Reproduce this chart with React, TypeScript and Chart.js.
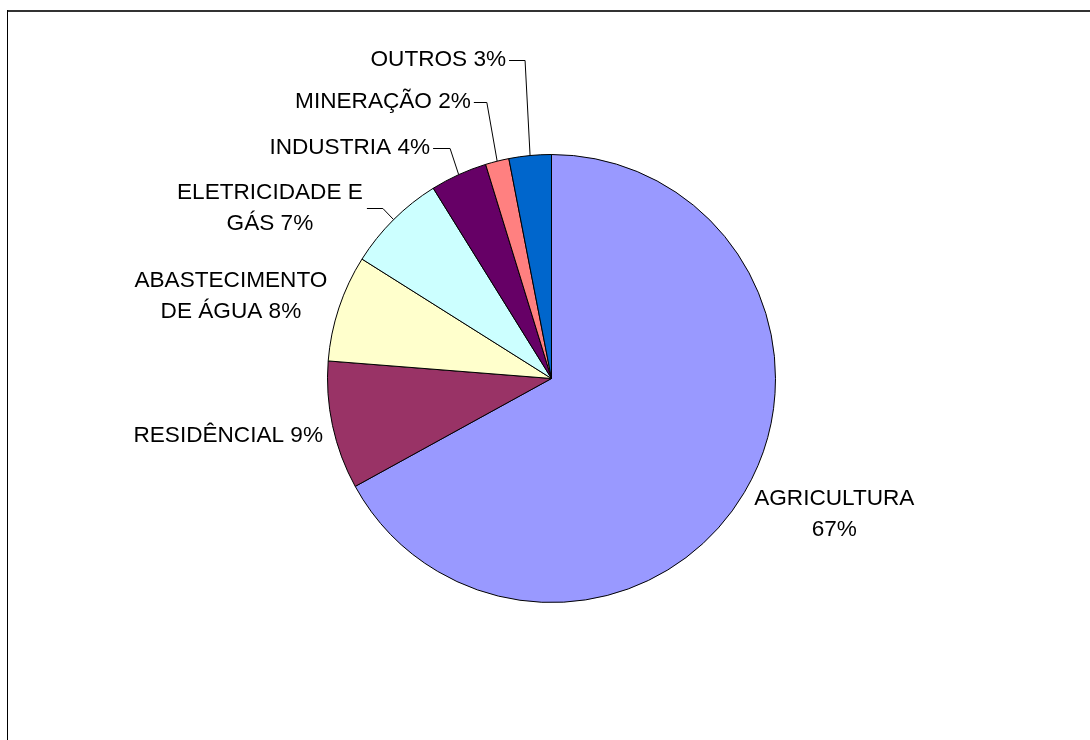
import React, { useEffect, useRef } from "react";
import { Chart, registerables } from "chart.js";

Chart.register(...registerables);

// ---- data ----
const categories = [
  "AGRICULTURA",
  "RESIDÊNCIAL",
  "ABASTECIMENTO DE ÁGUA",
  "ELETRICIDADE E GÁS",
  "INDUSTRIA",
  "MINERAÇÃO",
  "OUTROS",
];
const shares = [67, 9.25, 7.7, 7.2, 4.1, 1.7, 3.05];
const labelTexts = [
  ["AGRICULTURA", "67%"],
  ["RESIDÊNCIAL 9%"],
  ["ABASTECIMENTO", "DE ÁGUA 8%"],
  ["ELETRICIDADE E", "GÁS 7%"],
  ["INDUSTRIA 4%"],
  ["MINERAÇÃO 2%"],
  ["OUTROS 3%"],
];

// ---- styles ----
const sliceColors = ["#9999FF", "#993366", "#FFFFCC", "#CCFFFF", "#660066", "#FF8080", "#0066CC"];
// label placement relative to the slice's outer mid point
const labelStyles = [
  { dx: 90, dy: 22, align: "center", leader: null },
  { dx: -9.5, dy: 10.5, align: "right", leader: null },
  { dx: -108, dy: -12, align: "center", leader: null },
  { dx: -123.7, dy: -11.5, align: "center", leader: { start: 97, elbow: 113 } },
  { dx: -28.6, dy: -26.7, align: "right", leader: { start: 3, elbow: 20 } },
  { dx: -26.3, dy: -59.2, align: "right", leader: { start: 3, elbow: 16 } },
  { dx: -24, dy: -95.5, align: "right", leader: { start: 3, elbow: 19 } },
];
const FONT = '22.6px "Liberation Sans", Arial, sans-serif';
const LINE_H = 31;

const framePlugin = {
  id: "frame",
  beforeDraw(chart: any) {
    const ctx = chart.ctx;
    ctx.save();
    ctx.fillStyle = "#fff";
    ctx.fillRect(0, 0, chart.width, chart.height);
    ctx.fillStyle = "#333";
    ctx.fillRect(7, 10, chart.width - 7, 2);
    ctx.fillStyle = "#000";
    ctx.fillRect(7, 10, 1, chart.height - 10);
    ctx.restore();
  },
};

const labelPlugin = {
  id: "sliceLabels",
  afterDatasetsDraw(chart: any) {
    const ctx = chart.ctx;
    const meta = chart.getDatasetMeta(0);
    ctx.save();
    ctx.font = FONT;
    ctx.fillStyle = "#000";
    ctx.strokeStyle = "#000";
    ctx.lineWidth = 1;
    ctx.textBaseline = "middle";
    meta.data.forEach((el: any, i: number) => {
      const st = labelStyles[i];
      const mid = (el.startAngle + el.endAngle) / 2;
      const ex = el.x + Math.cos(mid) * el.outerRadius;
      const ey = el.y + Math.sin(mid) * el.outerRadius;
      const ax = ex + st.dx;
      const ay = ey + st.dy;
      const lines = labelTexts[i];
      ctx.textAlign = st.align;
      const top = ay - ((lines.length - 1) * LINE_H) / 2;
      lines.forEach((t, j) => ctx.fillText(t, ax, top + j * LINE_H));
      if (st.leader) {
        ctx.beginPath();
        ctx.moveTo(ax + st.leader.start, Math.round(ay) + 0.5);
        ctx.lineTo(ax + st.leader.elbow, Math.round(ay) + 0.5);
        ctx.lineTo(ex, ey);
        ctx.stroke();
      }
    });
    ctx.restore();
  },
};

export default function App() {
  const ref = useRef<HTMLCanvasElement>(null);
  useEffect(() => {
    if (!ref.current) return;
    const chart = new Chart(ref.current, {
      type: "pie",
      data: {
        labels: categories,
        datasets: [
          {
            data: shares,
            backgroundColor: sliceColors,
            borderColor: "#000",
            borderWidth: 1,
          },
        ],
      },
      options: {
        responsive: false,
        animation: false,
        devicePixelRatio: 1,
        radius: 224,
        layout: { padding: { left: 327, right: 314, top: 154, bottom: 137 } },
        plugins: {
          legend: { display: false },
          tooltip: { enabled: false },
        },
      } as any,
      plugins: [framePlugin, labelPlugin],
    });
    return () => chart.destroy();
  }, []);
  return (
    <div style={{ position: "fixed", left: 0, top: 0, width: 1090, height: 740, background: "#fff" }}>
      <canvas ref={ref} width={1090} height={740} style={{ display: "block" }} />
    </div>
  );
}
